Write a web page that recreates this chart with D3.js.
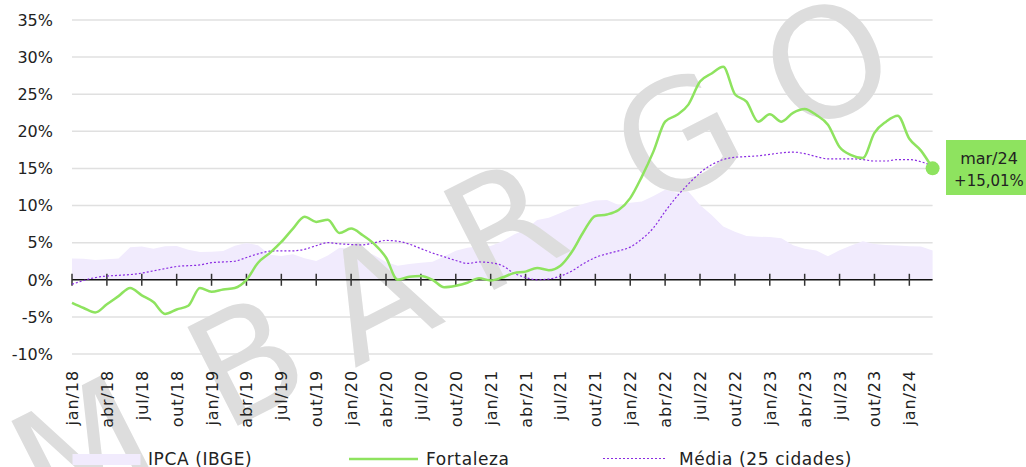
<!DOCTYPE html>
<meta charset="utf-8">
<style>
    body { margin: 0; background: #fff; }
    svg { display: block; font-family: "DejaVu Sans", sans-serif; }
</style>
<body>
<script src="https://d3js.org/d3.v7.min.js"></script>
<script>

// monthly series, jan/18 .. mar/24 (75 months)
var ipca = [2.86, 2.84, 2.68, 2.76, 2.86, 4.39, 4.48, 4.19, 4.53, 4.56, 4.05, 3.75,
            3.78, 3.89, 4.58, 4.94, 4.66, 3.37, 3.22, 3.43, 2.89, 2.54, 3.27, 4.31,
            4.19, 4.01, 3.30, 2.40, 1.88, 2.13, 2.31, 2.44, 3.14, 3.92, 4.31, 4.52,
            4.56, 5.20, 6.10, 6.76, 8.06, 8.35, 8.99, 9.68, 10.25, 10.67, 10.74, 10.06,
            10.38, 10.54, 11.30, 12.13, 11.73, 11.89, 10.07, 8.73, 7.17, 6.47, 5.90, 5.79,
            5.77, 5.60, 4.65, 4.18, 3.94, 3.16, 3.99, 4.61, 5.19, 4.82, 4.68, 4.62,
            4.51, 4.50, 3.93];

var fortaleza = [-3.1, -3.8, -4.4, -3.3, -2.2, -1.1, -2.1, -3.0, -4.6, -4.0, -3.5, -1.1,
                 -1.6, -1.3, -1.1, 0.0, 2.3, 3.6, 5.1, 6.9, 8.5, 7.8, 8.1, 6.3,
                 6.9, 6.0, 4.8, 3.0, 0.0, 0.4, 0.5, 0.0, -1.0, -0.8, -0.4, 0.2,
                 -0.1, 0.3, 0.9, 1.1, 1.6, 1.3, 1.9, 3.8, 6.5, 8.6, 8.8, 9.4,
                 11.0, 13.9, 17.3, 21.3, 22.2, 23.6, 26.7, 27.8, 28.7, 25.0, 24.0, 21.3,
                 22.3, 21.3, 22.5, 23.0, 22.2, 20.9, 17.9, 16.8, 16.4, 19.8, 21.3, 22.1,
                 19.0, 17.4, 15.01];

var media = [-0.6, -0.1, 0.3, 0.5, 0.6, 0.7, 0.9, 1.2, 1.5, 1.8, 1.9, 2.0,
             2.3, 2.4, 2.5, 3.0, 3.5, 3.85, 3.9, 3.9, 4.1, 4.6, 5.0, 4.85,
             4.75, 4.7, 5.0, 5.3, 5.2, 4.8, 4.2, 3.6, 3.1, 2.6, 2.2, 2.4,
             2.3, 1.9, 0.9, 0.3, 0.0, 0.1, 0.5, 1.2, 2.2, 3.0, 3.5, 3.9,
             4.4, 5.5, 7.0, 9.2, 11.2, 12.9, 14.4, 15.5, 16.2, 16.5, 16.6, 16.7,
             16.9, 17.1, 17.2, 17.0, 16.6, 16.3, 16.3, 16.3, 16.2, 16.0, 16.0, 16.2,
             16.2, 15.9, 15.3];

var tickLabels = ['jan/18', 'abr/18', 'jul/18', 'out/18', 'jan/19', 'abr/19', 'jul/19', 'out/19',
                  'jan/20', 'abr/20', 'jul/20', 'out/20', 'jan/21', 'abr/21', 'jul/21', 'out/21',
                  'jan/22', 'abr/22', 'jul/22', 'out/22', 'jan/23', 'abr/23', 'jul/23', 'out/23',
                  'jan/24'];
var yTicks = [-10, -5, 0, 5, 10, 15, 20, 25, 30, 35];
var lastLabel = 'mar/24';
var legendNames = ['IPCA (IBGE)', 'Fortaleza', 'Média (25 cidades)'];

var width = 1026, height = 467;
var green = '#8ee35f', purple = '#8a2be2', lavender = '#f1ebfd';

var x = d3.scaleLinear().domain([0, ipca.length - 1]).range([72, 932.6]);
var y = d3.scaleLinear().domain([-10, 35]).range([354, 20]);

var svg = d3.select('body').append('svg')
    .attr('width', width)
    .attr('height', height);

// grid
svg.append('g').selectAll('line')
    .data(yTicks.filter(function(d) { return d !== 0; }))
    .enter().append('line')
    .attr('x1', x(0)).attr('x2', x(ipca.length - 1))
    .attr('y1', function(d) { return y(d); })
    .attr('y2', function(d) { return y(d); })
    .attr('stroke', '#e0e0e0')
    .attr('stroke-width', 1.5);

svg.append('g').selectAll('text')
    .data(yTicks)
    .enter().append('text')
    .attr('x', 53)
    .attr('y', function(d) { return y(d); })
    .attr('dy', '0.36em')
    .attr('text-anchor', 'end')
    .attr('font-size', 16)
    .attr('fill', '#222')
    .text(function(d) { return d + '%'; });

// ipca area
var area = d3.area()
    .x(function(d, i) { return x(i); })
    .y0(y(0))
    .y1(function(d) { return y(d); });

svg.append('path')
    .datum(ipca)
    .attr('d', area)
    .attr('fill', lavender);

// watermark
var mark = [['M', 82, 448], ['B', 246, 360], ['A', 376, 296], ['R', 503, 224], ['G', 677, 136], ['O', 827, 62]];
svg.append('g').selectAll('text')
    .data(mark)
    .enter().append('text')
    .attr('transform', function(d) { return 'translate(' + d[1] + ',' + d[2] + ') rotate(-27)'; })
    .attr('text-anchor', 'middle')
    .attr('dy', '0.36em')
    .attr('font-size', 152)
    .attr('fill', '#dddddd')
    .text(function(d) { return d[0]; });

// zero axis
svg.append('line')
    .attr('x1', x(0)).attr('x2', x(ipca.length - 1))
    .attr('y1', y(0)).attr('y2', y(0))
    .attr('stroke', '#111')
    .attr('stroke-width', 1.5);

svg.append('g').selectAll('line')
    .data(tickLabels)
    .enter().append('line')
    .attr('x1', function(d, i) { return x(i * 3); })
    .attr('x2', function(d, i) { return x(i * 3); })
    .attr('y1', y(0) - 6).attr('y2', y(0) + 6)
    .attr('stroke', '#333')
    .attr('stroke-width', 1.5);

svg.append('g').selectAll('text')
    .data(tickLabels)
    .enter().append('text')
    .attr('transform', function(d, i) { return 'translate(' + (x(i * 3) + 6) + ',370) rotate(-90)'; })
    .attr('text-anchor', 'end')
    .attr('font-size', 16)
    .attr('letter-spacing', 0.9)
    .attr('fill', '#222')
    .text(function(d) { return d; });

// lines
var line = d3.line()
    .x(function(d, i) { return x(i); })
    .y(function(d) { return y(d); })
    .curve(d3.curveMonotoneX);

svg.append('path')
    .datum(media)
    .attr('d', line)
    .attr('fill', 'none')
    .attr('stroke', purple)
    .attr('stroke-width', 1.2)
    .attr('stroke-dasharray', '2,2');

svg.append('path')
    .datum(fortaleza)
    .attr('d', line)
    .attr('fill', 'none')
    .attr('stroke', green)
    .attr('stroke-width', 2.5);

var last = fortaleza.length - 1;
svg.append('circle')
    .attr('cx', x(last))
    .attr('cy', y(fortaleza[last]))
    .attr('r', 7)
    .attr('fill', green);

// end label
var lab = svg.append('g').attr('transform', 'translate(946,140)');
lab.append('rect')
    .attr('width', 80).attr('height', 55)
    .attr('fill', green);
lab.append('text')
    .attr('x', 43).attr('y', 24)
    .attr('text-anchor', 'middle')
    .attr('font-size', 16)
    .attr('fill', '#222')
    .text(lastLabel);
lab.append('text')
    .attr('x', 43).attr('y', 46)
    .attr('text-anchor', 'middle')
    .attr('font-size', 15)
    .attr('fill', '#222')
    .text('+' + d3.format('.2f')(fortaleza[last]).replace('.', ',') + '%');

// legend
var leg = svg.append('g').attr('font-size', 17).attr('fill', '#222').attr('letter-spacing', 0.6);
leg.append('rect')
    .attr('x', 72.5).attr('y', 454)
    .attr('width', 68).attr('height', 11)
    .attr('fill', lavender);
leg.append('text').attr('x', 148).attr('y', 465).text(legendNames[0]);

leg.append('line')
    .attr('x1', 349).attr('x2', 418)
    .attr('y1', 459).attr('y2', 459)
    .attr('stroke', green).attr('stroke-width', 2.5);
leg.append('text').attr('x', 426).attr('y', 465).text(legendNames[1]);

leg.append('line')
    .attr('x1', 603).attr('x2', 667)
    .attr('y1', 458.5).attr('y2', 458.5)
    .attr('stroke', purple).attr('stroke-width', 1.2)
    .attr('stroke-dasharray', '2,2');
leg.append('text').attr('x', 679).attr('y', 465).text(legendNames[2]);

</script>
</body>
